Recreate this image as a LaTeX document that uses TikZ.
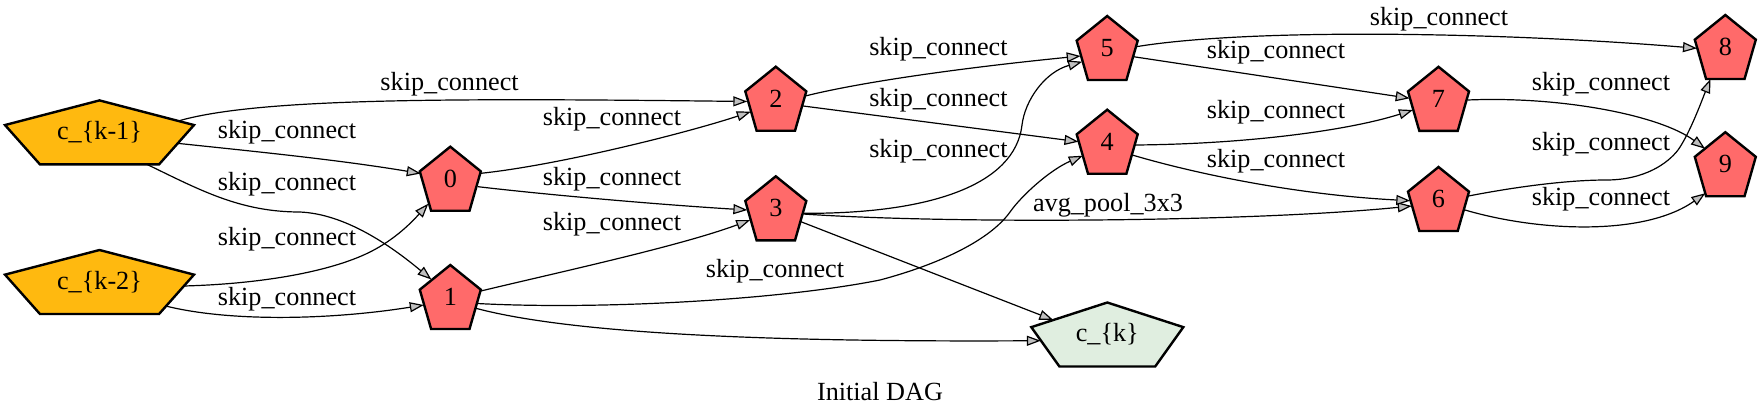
\documentclass[tikz,border=0pt]{standalone}
\usepackage{fontspec}
\setmainfont{Liberation Serif}
\usetikzlibrary{calc,arrows.meta}
\pgfdeclarelayer{bg}
\pgfsetlayers{bg,main}
\definecolor{inpfill}{HTML}{FFB90F}
\definecolor{midfill}{HTML}{FF6A6A}
\definecolor{outfill}{HTML}{E0EEE0}
\begin{document}
\begin{tikzpicture}[x=0.5pt,y=-0.5pt,
  font=\fontsize{13.1pt}{15.7pt}\selectfont,
  pent/.style={rectangle, draw=none, inner sep=0pt, outer sep=0pt, minimum width=30.5pt, minimum height=32pt},
  widepent/.style={pent, minimum width=94.5pt},
  outpent/.style={pent, minimum width=76pt},
  lbl/.style={inner sep=0pt},
  conn/.style={draw, line width=0.6pt, -{Triangle[length=7pt,width=5pt,fill=gray!50]}},
  pentline/.style={draw=black, line width=1.2pt}]
\useasboundingbox (0,0) rectangle (1761,419);

% nodes
\node[widepent] (ckm1) at (99.5,132.4) {c\_\{k-1\}};
\node[widepent] (ckm2) at (99.5,282) {c\_\{k-2\}};
\node[pent] (n0) at (450.3,178.7) {0};
\node[pent] (n1) at (450.3,297) {1};
\node[pent] (n2) at (775.8,98.7) {2};
\node[pent] (n3) at (775.8,208.3) {3};
\node[pent] (n4) at (1107.2,141.7) {4};
\node[pent] (n5) at (1107.2,48) {5};
\node[pent] (n6) at (1438.5,199) {6};
\node[pent] (n7) at (1438.5,98.8) {7};
\node[pent] (n8) at (1725.3,47) {8};
\node[pent] (n9) at (1725.3,164.2) {9};
\node[outpent] (ck) at (1107.3,334.5) {c\_\{k\}};

\begin{pgfonlayer}{bg}
\foreach \n/\c in {ckm1/inpfill,ckm2/inpfill,n0/midfill,n1/midfill,n2/midfill,n3/midfill,n4/midfill,n5/midfill,n6/midfill,n7/midfill,n8/midfill,n9/midfill,ck/outfill}{
  \filldraw[pentline, fill=\c] (\n.north) -- ($(\n.north west)!0.385!(\n.south west)$) -- ($(\n.south west)!0.185!(\n.south east)$) -- ($(\n.south east)!0.185!(\n.south west)$) -- ($(\n.north east)!0.385!(\n.south east)$) -- cycle;
}
\end{pgfonlayer}

% connectors
\draw[conn] ($(ckm1)+(80.5,-11.9)$) .. controls (260,98) and (450,98) .. ($(n2)+(-28.5,2.8)$);
\draw[conn] ($(ckm1)+(77.8,10.9)$) .. controls (260,152) and (340,160) .. ($(n0)+(-29.5,-5.2)$);
\draw[conn] ($(ckm1)+(47.5,32)$) .. controls (200,190) and (240,212) .. (300,212) .. controls (345,214) and (390,245) .. ($(n1)+(-18.9,-17.5)$);
\draw[conn] ($(ckm2)+(83.9,4)$) .. controls (260,284) and (330,272) .. (370,252) .. controls (395,239.5) and (412,222) .. ($(n0)+(-22,25)$);
\draw[conn] ($(ckm2)+(66.2,24)$) .. controls (230,322) and (330,320) .. ($(n1)+(-26.5,8)$);
\draw[conn] ($(n0)+(30.5,-5.4)$) .. controls (560,165) and (690,132) .. ($(n2)+(-25,13)$);
\draw[conn] ($(n0)+(27.8,8)$) .. controls (540,194) and (650,204) .. ($(n3)+(-28.4,1.7)$);
\draw[conn] ($(n1)+(30.5,-6)$) .. controls (560,272) and (680,246) .. ($(n3)+(-25.6,11.7)$);
\draw[conn] ($(n1)+(27,6.5)$) .. controls (600,310) and (780,300) .. (880,280) .. controls (940,264) and (990,240) .. (1010,212) .. controls (1022,195) and (1050,170) .. ($(n4)+(-24.5,14)$);
\draw[conn] ($(n1)+(25.6,11.3)$) .. controls (580,336) and (800,342) .. ($(ck)+(-66.5,6.2)$);
\draw[conn] ($(n3)+(25.1,13.4)$) -- ($(ck)+(-54,-14.5)$);
\draw[conn] ($(n2)+(29.8,-2.8)$) .. controls (870,80) and (980,66) .. ($(n5)+(-26.5,8)$);
\draw[conn] ($(n2)+(26.7,7.2)$) -- ($(n4)+(-28.7,0)$);
\draw[conn] ($(n3)+(27.5,5)$) .. controls (930,214) and (1015,185) .. (1022,125) .. controls (1025,100) and (1045,72) .. ($(n5)+(-25,13.7)$);
\draw[conn] ($(n3)+(27.5,5.7)$) .. controls (950,224) and (1250,222) .. ($(n6)+(-26.7,7)$);
\draw[conn] ($(n5)+(29,-1.3)$) .. controls (1250,28) and (1500,32) .. ($(n8)+(-28.3,1.3)$);
\draw[conn] ($(n5)+(26.3,8.7)$) -- ($(n7)+(-28.8,-0.5)$);
\draw[conn] ($(n4)+(27.8,3.3)$) .. controls (1250,144) and (1350,130) .. ($(n7)+(-25.6,11.2)$);
\draw[conn] ($(n4)+(25,13.3)$) .. controls (1200,175) and (1300,195) .. ($(n6)+(-28.2,1.7)$);
\draw[conn] ($(n7)+(29,1.2)$) .. controls (1560,96) and (1660,115) .. ($(n9)+(-20.3,-15.5)$);
\draw[conn] ($(n6)+(30,-3)$) .. controls (1520,186) and (1570,180) .. (1606,180) .. controls (1645,180) and (1668,163) .. (1678,150) .. controls (1690,133) and (1702,100) .. ($(n8)+(-14.8,32)$);
\draw[conn] ($(n6)+(26.5,11)$) .. controls (1540,232) and (1645,236) .. ($(n9)+(-20,29)$);

% labels
\node[lbl] (l1) at (449.6,84) {skip\_connect};
\node[lbl] (l2) at (287,132.5) {skip\_connect};
\node[lbl] (l3) at (287,184) {skip\_connect};
\node[lbl] (l4) at (287,239) {skip\_connect};
\node[lbl] (l5) at (287,299) {skip\_connect};
\node[lbl] (l6) at (612,119) {skip\_connect};
\node[lbl] (l7) at (612,179) {skip\_connect};
\node[lbl] (l8) at (612,224) {skip\_connect};
\node[lbl] (l9) at (775,270.7) {skip\_connect};
\node[lbl] (l12) at (938.4,49) {skip\_connect};
\node[lbl] (l13) at (938.4,100) {skip\_connect};
\node[lbl] (l14) at (938.4,150.7) {skip\_connect};
\node[lbl] (l15) at (1108,205.7) {avg\_pool\_3x3};
\node[lbl] (l16) at (1439,19.2) {skip\_connect};
\node[lbl] (l17) at (1276,52.5) {skip\_connect};
\node[lbl] (l18) at (1276,112.5) {skip\_connect};
\node[lbl] (l19) at (1276,160.8) {skip\_connect};
\node[lbl] (l20) at (1601,84) {skip\_connect};
\node[lbl] (l21) at (1601,144) {skip\_connect};
\node[lbl] (l22) at (1601,199) {skip\_connect};
\node[lbl] (title) at (880,391.7) {Initial DAG};
\end{tikzpicture}
\end{document}
